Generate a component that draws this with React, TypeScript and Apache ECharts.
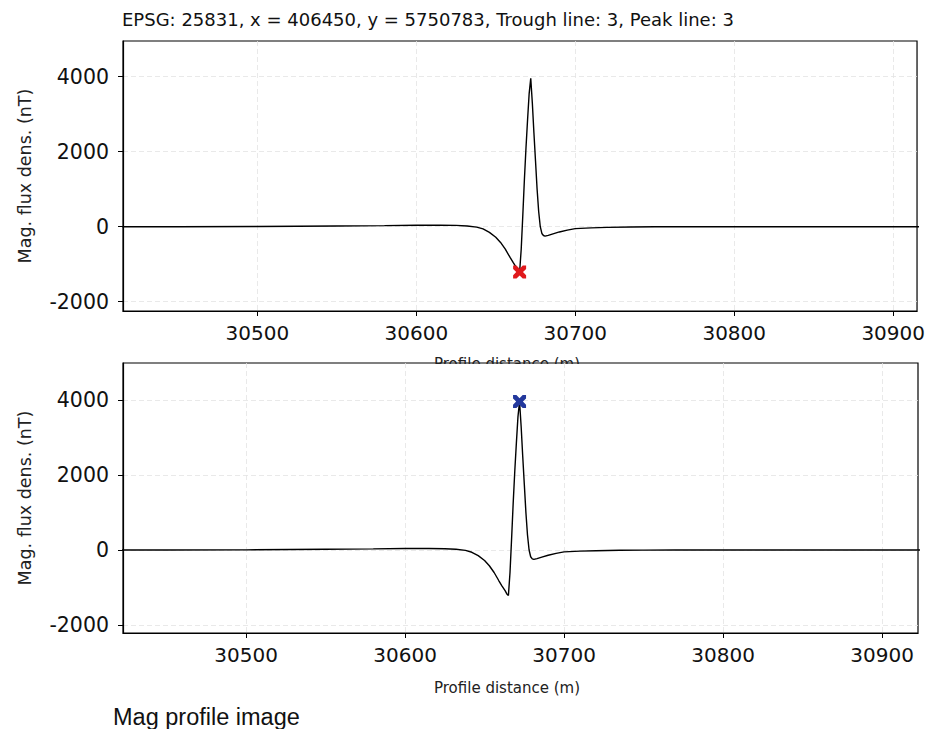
import React, { useEffect, useRef } from "react";
import * as echarts from "echarts";

const distance = [
  30415, 30450, 30500, 30550, 30580, 30600, 30615, 30625, 30632, 30638,
  30642, 30646, 30650, 30653, 30656, 30659, 30661, 30663, 30664, 30665,
  30666, 30667, 30668, 30669, 30670, 30671, 30672, 30673, 30674, 30675,
  30676, 30677, 30678, 30679, 30680, 30681, 30683, 30686, 30690, 30695,
  30700, 30710, 30720, 30735, 30750, 30770, 30800, 30850, 30925,
];
const magField = [
  0, 0, 5, 20, 30, 40, 40, 35, 20, -10,
  -60, -150, -280, -420, -600, -820, -960, -1090, -1170, -1210,
  -600, 300, 1250, 2100, 2850, 3550, 3960, 3300, 2500, 1750,
  1000, 400, 0, -180, -235, -250, -230, -190, -140, -90,
  -50, -30, -18, -8, -2, 0, 0, 0, 0,
];
const troughPoint = [30665, -1210];
const peakPoint = [30672, 3960];
const xTicks = [30500, 30600, 30700, 30800, 30900];
const yTicks = [-2000, 0, 2000, 4000];
const topXRange = [30415.5, 30915];
const bottomXRange = [30422.6, 30922.6];
const topYRange = [-2248, 4952];
const bottomYRange = [-2213, 4987];
const titleText = "EPSG: 25831, x = 406450, y = 5750783, Trough line: 3, Peak line: 3";
const yName = "Mag. flux dens. (nT)";
const xName = "Profile distance (m)";
const caption = "Mag profile image";

const FONT = "DejaVu Sans";
const crossPath =
  "path://M0,0 L2.6,0 L5,2.4 L7.4,0 L10,0 L10,2.6 L7.6,5 L10,7.4 L10,10 L7.4,10 L5,7.6 L2.6,10 L0,10 L0,7.4 L2.4,5 L0,2.6 Z";

const gridLine = { show: true, lineStyle: { color: "#e3e3e3", type: [5, 3], width: 0.8 } };

function makeX(gridIndex: number, range: number[]) {
  return {
    type: "value",
    gridIndex,
    min: range[0],
    max: range[1],
    splitNumber: 5,
    axisLine: { show: true, onZero: false, lineStyle: { color: "#000", width: 1.2 } },
    axisTick: { show: true, length: 5, customValues: xTicks, lineStyle: { color: "#000", width: 1 } },
    axisLabel: {
      customValues: xTicks,
      fontSize: 20,
      fontFamily: FONT,
      color: "#111",
      margin: 12,
      formatter: (v: number) => String(v),
    },
    splitLine: gridLine,
  };
}

function makeY(gridIndex: number, range: number[]) {
  return {
    type: "value",
    gridIndex,
    min: range[0],
    max: range[1],
    splitNumber: 3,
    axisLine: { show: true, onZero: false, lineStyle: { color: "#000", width: 1.2 } },
    axisTick: { show: true, length: 5, customValues: yTicks, lineStyle: { color: "#000", width: 1 } },
    axisLabel: {
      customValues: yTicks,
      fontSize: 20.5,
      fontFamily: FONT,
      color: "#111",
      margin: 14,
      formatter: (v: number) => String(v),
    },
    splitLine: gridLine,
  };
}

function lineSeries(idx: number) {
  return {
    type: "line",
    xAxisIndex: idx,
    yAxisIndex: idx,
    data: distance.map((d, i) => [d, magField[i]]),
    showSymbol: false,
    symbol: "none",
    lineStyle: { color: "#000", width: 1.4 },
    clip: true,
    z: 3,
  };
}

function markerSeries(idx: number, pt: number[], color: string) {
  return {
    type: "scatter",
    xAxisIndex: idx,
    yAxisIndex: idx,
    data: [pt],
    symbol: crossPath,
    symbolSize: 13,
    itemStyle: { color, opacity: 1 },
    z: 5,
  };
}

function textEl(text: string, x: number, y: number, size: number, align: string, rotation = 0, family = FONT, color = "#222") {
  return {
    type: "text",
    x,
    y,
    rotation,
    style: {
      text,
      fontSize: size,
      fontFamily: family,
      fill: color,
      textAlign: align,
      textVerticalAlign: "middle",
      align,
      verticalAlign: "middle",
    },
  };
}

export default function App() {
  const ref = useRef<HTMLDivElement>(null);
  useEffect(() => {
    document.body.style.margin = "0";
    if (!ref.current) return;
    const chart = echarts.init(ref.current, null, { renderer: "svg" });
    chart.setOption({
      animation: false,
      backgroundColor: "#fff",
      grid: [
        { left: 123, top: 41, width: 796, height: 270, show: true, borderColor: "#000", borderWidth: 1.2, backgroundColor: "transparent" },
        { left: 123, top: 363, width: 795, height: 270, show: true, borderColor: "#000", borderWidth: 1.2, backgroundColor: "transparent" },
      ],
      xAxis: [makeX(0, topXRange), makeX(1, bottomXRange)],
      yAxis: [makeY(0, topYRange), makeY(1, bottomYRange)],
      series: [
        lineSeries(0),
        lineSeries(1),
        markerSeries(0, troughPoint, "#e0191c"),
        markerSeries(1, peakPoint, "#23389c"),
      ],
      graphic: [
        textEl(titleText, 122, 19, 18, "left", 0, FONT, "#111"),
        textEl(yName, 25, 176, 17.5, "center", Math.PI / 2),
        textEl(yName, 25, 498, 17.5, "center", Math.PI / 2),
        textEl(xName, 507, 364, 15, "center"),
        {
          type: "rect",
          shape: { x: 124, y: 364, width: 793, height: 10 },
          style: { fill: "#fff" },
        },
        textEl(xName, 507, 688, 15, "center"),
        textEl(caption, 113, 717, 23.5, "left", 0, "Liberation Sans", "#111"),
      ],
    });
    return () => chart.dispose();
  }, []);
  return <div ref={ref} style={{ width: 928, height: 729 }} />;
}
